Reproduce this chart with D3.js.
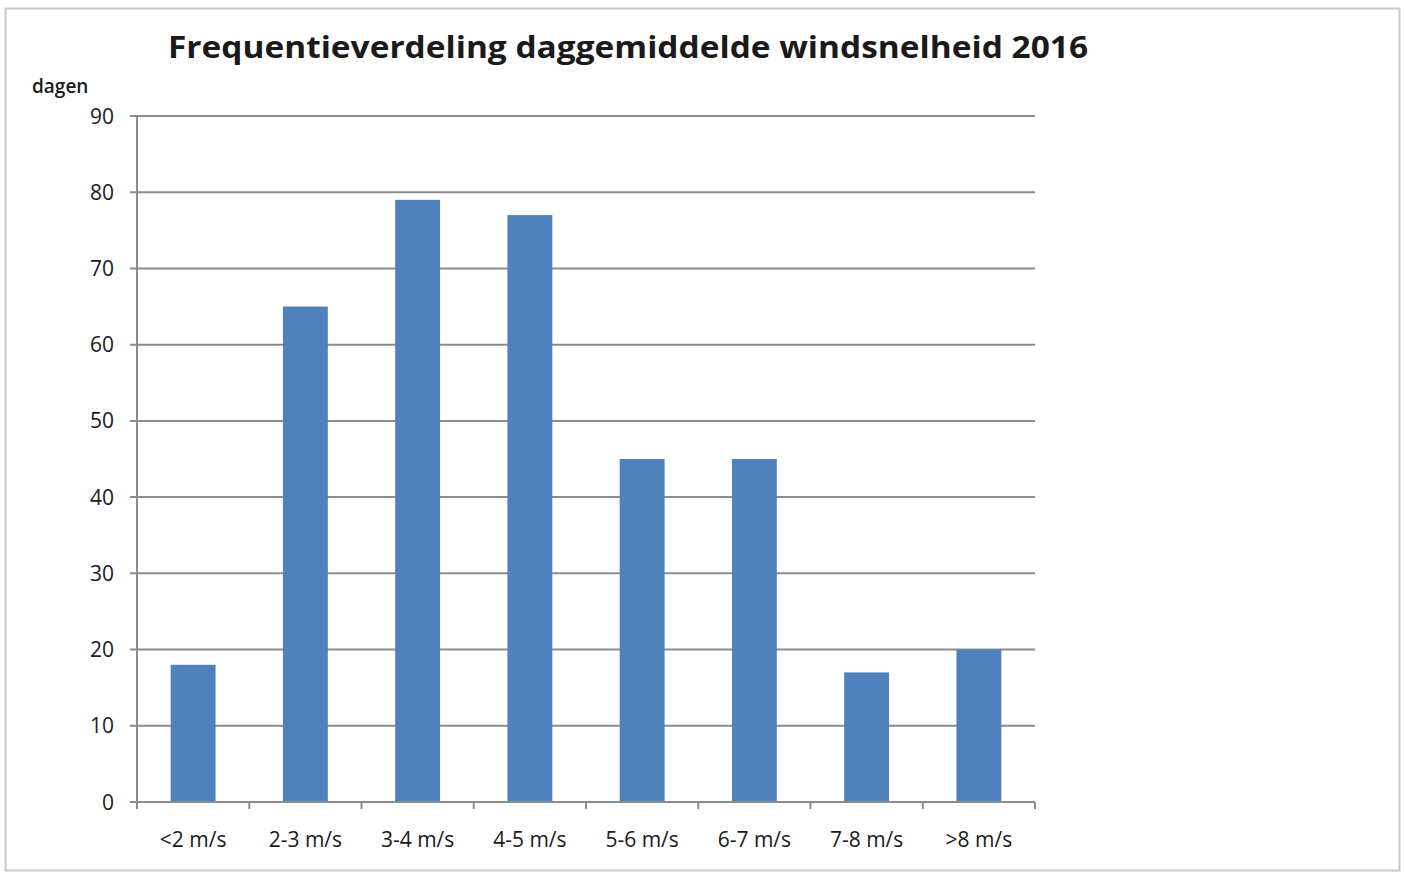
<!DOCTYPE html>
<html>
<head>
<meta charset="utf-8">
<script src="https://cdn.jsdelivr.net/npm/d3@7"></script>
<style>
  body { margin: 0; background: #fff; }
  text { font-family: "Open Sans", "DejaVu Sans", sans-serif; fill: #1a1a1a; }
</style>
</head>
<body>
<svg id="chart" width="1405" height="873"></svg>
<script>
// data
const categories = ["<2 m/s", "2-3 m/s", "3-4 m/s", "4-5 m/s", "5-6 m/s", "6-7 m/s", "7-8 m/s", ">8 m/s"];
const days = [18, 65, 79, 77, 45, 45, 17, 20];
const yTicks = [0, 10, 20, 30, 40, 50, 60, 70, 80, 90];

const svg = d3.select("#chart");
const margin = {left: 137, right: 370, top: 116, bottom: 71};
const W = 1405, H = 873;

// outer frame
svg.append("rect")
    .attr("x", 5.5).attr("y", 8.5)
    .attr("width", 1394).attr("height", 862)
    .attr("fill", "#fff")
    .attr("stroke", "#c8c8c8")
    .attr("stroke-width", 2);

let x = d3.scaleBand()
    .domain(categories)
    .range([margin.left, W - margin.right])
    .paddingInner(0.6)
    .paddingOuter(0.3);

let y = d3.scaleLinear()
    .domain([0, 90])
    .range([H - margin.bottom, margin.top]);

// gridlines
svg.append("g")
    .selectAll("line")
    .data(yTicks)
    .enter()
    .append("line")
    .attr("x1", margin.left - 7)
    .attr("x2", W - margin.right)
    .attr("y1", d => y(d))
    .attr("y2", d => y(d))
    .attr("stroke", "#8c8c8c")
    .attr("stroke-width", 2);

// y axis line
svg.append("line")
    .attr("x1", margin.left).attr("x2", margin.left)
    .attr("y1", y(90)).attr("y2", y(0) + 7)
    .attr("stroke", "#8c8c8c")
    .attr("stroke-width", 2);

// bars
svg.append("g")
    .selectAll("rect")
    .data(days)
    .enter()
    .append("rect")
    .attr("x", (d, i) => x(categories[i]))
    .attr("width", x.bandwidth())
    .attr("y", d => y(d))
    .attr("height", d => y(0) - y(d))
    .attr("fill", "#4f81bd");

// x axis baseline + category ticks
svg.append("line")
    .attr("x1", margin.left).attr("x2", W - margin.right)
    .attr("y1", y(0)).attr("y2", y(0))
    .attr("stroke", "#8c8c8c")
    .attr("stroke-width", 2);

let bounds = d3.range(categories.length + 1).map(i => margin.left + i * (W - margin.left - margin.right) / categories.length);
svg.append("g")
    .selectAll("line")
    .data(bounds)
    .enter()
    .append("line")
    .attr("x1", d => d).attr("x2", d => d)
    .attr("y1", y(0)).attr("y2", y(0) + 7)
    .attr("stroke", "#8c8c8c")
    .attr("stroke-width", 2);

// y tick labels
svg.append("g")
    .selectAll("text")
    .data(yTicks)
    .enter()
    .append("text")
    .attr("x", 114)
    .attr("y", d => y(d))
    .attr("dy", "0.36em")
    .attr("text-anchor", "end")
    .style("font-size", "21px")
    .style("font-weight", "500")
    .text(d => d);

// x labels
svg.append("g")
    .selectAll("text")
    .data(categories)
    .enter()
    .append("text")
    .attr("x", d => x(d) + x.bandwidth() / 2)
    .attr("y", 847)
    .attr("text-anchor", "middle")
    .style("font-size", "21px")
    .style("font-weight", "500")
    .text(d => d);

// axis title
svg.append("text")
    .attr("x", 32).attr("y", 93)
    .style("font-size", "19px")
    .style("font-weight", "600")
    .text("dagen");

// chart title
svg.append("text")
    .attr("x", 628).attr("y", 58)
    .attr("text-anchor", "middle")
    .attr("textLength", 920)
    .attr("lengthAdjust", "spacingAndGlyphs")
    .style("font-size", "30px")
    .style("font-weight", "bold")
    .text("Frequentieverdeling daggemiddelde windsnelheid 2016");
</script>
</body>
</html>
